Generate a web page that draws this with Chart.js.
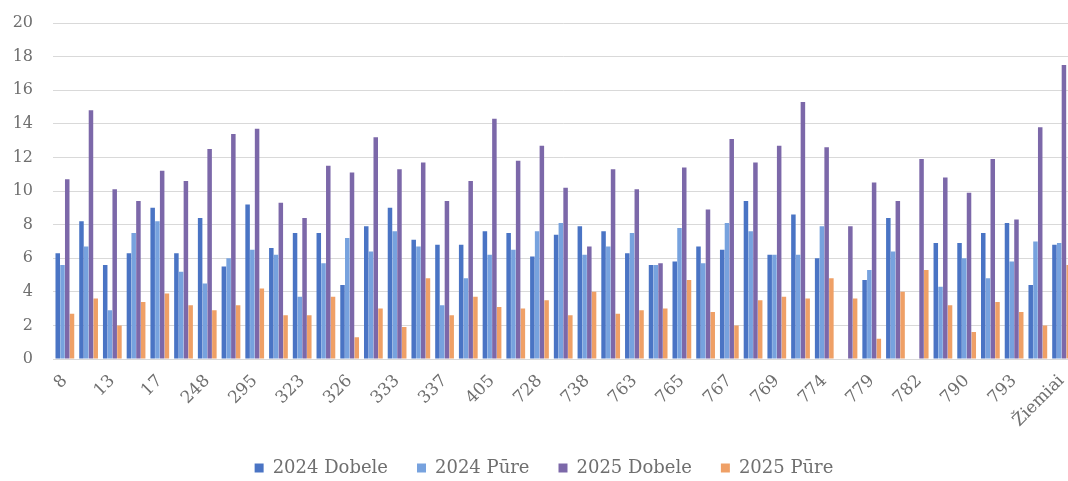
<!DOCTYPE html>
<html>
<head>
<meta charset="utf-8">
<script src="https://cdn.jsdelivr.net/npm/chart.js@4/dist/chart.umd.min.js"></script>
<style>
    html, body { margin: 0; padding: 0; background: #fff; overflow: hidden; }
    #wrap { position: absolute; left: 0; top: 0; width: 1088px; height: 481px; }
</style>
</head>
<body>
<div id="wrap"><canvas id="chart"></canvas></div>
<script>
// categories (only every other one is labelled on the axis)
const categories = ['8', '12', '13', '15', '17', '26', '248', '249', '295', '322',
    '323', '324', '326', '332', '333', '336', '337', '401', '405', '727',
    '728', '737', '738', '762', '763', '764', '765', '766', '767', '768',
    '769', '773', '774', '778', '779', '781', '782', '789', '790', '792',
    '793', '794', 'Žiemiai'];

const dobele2024 = [6.3, 8.2, 5.6, 6.3, 9.0, 6.3, 8.4, 5.5, 9.2, 6.6,
    7.5, 7.5, 4.4, 7.9, 9.0, 7.1, 6.8, 6.8, 7.6, 7.5,
    6.1, 7.4, 7.9, 7.6, 6.3, 5.6, 5.8, 6.7, 6.5, 9.4,
    6.2, 8.6, 6.0, null, 4.7, 8.4, null, 6.9, 6.9, 7.5,
    8.1, 4.4, 6.8];

const pure2024 = [5.6, 6.7, 2.9, 7.5, 8.2, 5.2, 4.5, 6.0, 6.5, 6.2,
    3.7, 5.7, 7.2, 6.4, 7.6, 6.7, 3.2, 4.8, 6.2, 6.5,
    7.6, 8.1, 6.2, 6.7, 7.5, 5.6, 7.8, 5.7, 8.1, 7.6,
    6.2, 6.2, 7.9, null, 5.3, 6.4, null, 4.3, 6.0, 4.8,
    5.8, 7.0, 6.9];

const dobele2025 = [10.7, 14.8, 10.1, 9.4, 11.2, 10.6, 12.5, 13.4, 13.7, 9.3,
    8.4, 11.5, 11.1, 13.2, 11.3, 11.7, 9.4, 10.6, 14.3, 11.8,
    12.7, 10.2, 6.7, 11.3, 10.1, 5.7, 11.4, 8.9, 13.1, 11.7,
    12.7, 15.3, 12.6, 7.9, 10.5, 9.4, 11.9, 10.8, 9.9, 11.9,
    8.3, 13.8, 17.5];

const pure2025 = [2.7, 3.6, 2.0, 3.4, 3.9, 3.2, 2.9, 3.2, 4.2, 2.6,
    2.6, 3.7, 1.3, 3.0, 1.9, 4.8, 2.6, 3.7, 3.1, 3.0,
    3.5, 2.6, 4.0, 2.7, 2.9, 3.0, 4.7, 2.8, 2.0, 3.5,
    3.7, 3.6, 4.8, 3.6, 1.2, 4.0, 5.3, 3.2, 1.6, 3.4,
    2.8, 2.0, 5.6];

const seriesNames = ['2024 Dobele', '2024 Pūre', '2025 Dobele', '2025 Pūre'];
const seriesColors = ['#4a74c4', '#77a2de', '#7c68a9', '#efa066'];

const fontFamily = "'DejaVu Serif', serif";
const textColor = '#6f6f6f';

const datasets = [dobele2024, pure2024, dobele2025, pure2025].map((values, i) => ({
    label: seriesNames[i],
    data: values,
    backgroundColor: seriesColors[i],
    borderWidth: 0,
    categoryPercentage: 0.8,
    barPercentage: 0.95
}));

new Chart(document.getElementById('chart'), {
    type: 'bar',
    data: { labels: categories, datasets: datasets },
    options: {
        responsive: true,
        maintainAspectRatio: false,
        animation: false,
        layout: {
            padding: { left: 0, right: 0, top: 23, bottom: -6 }
        },
        plugins: {
            tooltip: { enabled: false },
            legend: {
                position: 'bottom',
                labels: {
                    boxWidth: 9,
                    boxHeight: 9,
                    padding: 29,
                    color: textColor,
                    font: { family: fontFamily, size: 18 }
                }
            }
        },
        scales: {
            x: {
                afterFit: (scale) => { scale.height = 71; },
                grid: { display: false, drawTicks: false },
                border: { display: false },
                ticks: {
                    autoSkip: false,
                    minRotation: 45,
                    maxRotation: 45,
                    padding: 12,
                    color: textColor,
                    font: { family: fontFamily, size: 17 },
                    callback: function(value, index) {
                        return index % 2 === 0 ? this.getLabelForValue(value) : '';
                    }
                }
            },
            y: {
                min: 0,
                max: 20,
                afterFit: (scale) => {
                    scale.width = 53;
                    // tick padding would otherwise push the plot down
                    scale.paddingTop = 0;
                    scale.paddingBottom = 0;
                },
                grid: { color: '#d9d9d9', lineWidth: 1, drawTicks: false },
                border: { display: false },
                ticks: {
                    stepSize: 2,
                    padding: 20,
                    color: textColor,
                    font: { family: fontFamily, size: 16 }
                }
            }
        }
    }
});
</script>
</body>
</html>
